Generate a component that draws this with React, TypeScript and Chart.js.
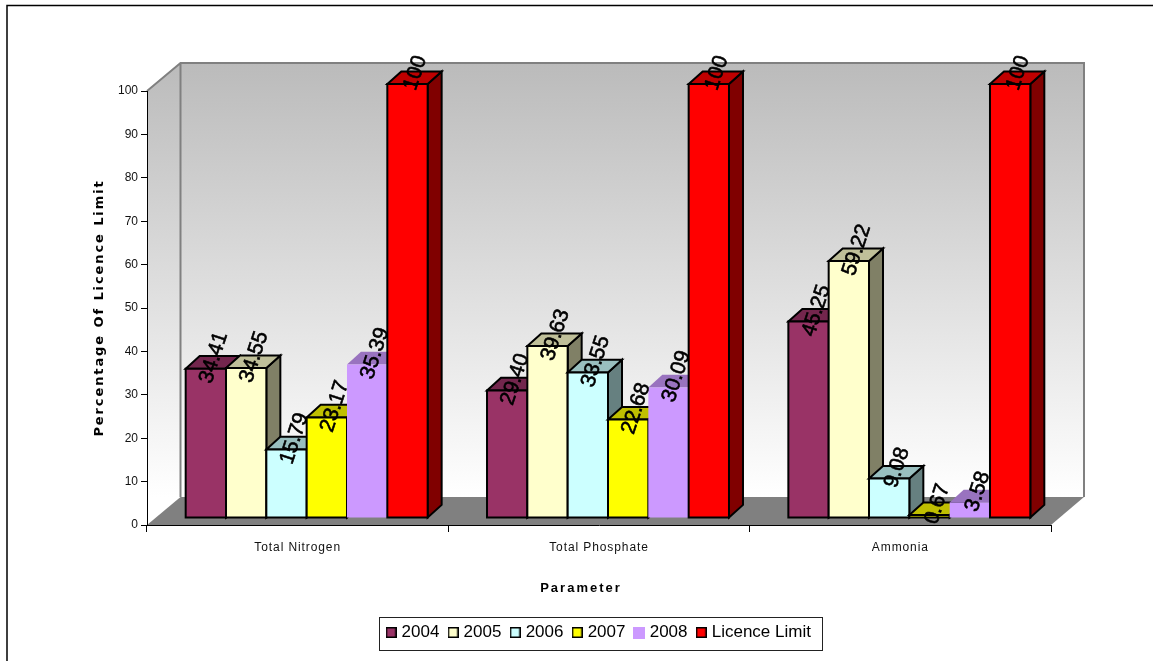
import React, { useEffect, useRef } from "react";
import { Chart, registerables } from "chart.js";

Chart.register(...registerables);

const categories = ["Total Nitrogen", "Total Phosphate", "Ammonia"];
const series2004 = [34.41, 29.4, 45.25];
const series2005 = [34.55, 39.63, 59.22];
const series2006 = [15.79, 33.55, 9.08];
const series2007 = [23.17, 22.68, 0.67];
const series2008 = [35.39, 30.09, 3.58];
const licenceLimit = [100, 100, 100];
const labels2004 = ["34.41", "29.40", "45.25"];
const labels2005 = ["34.55", "39.63", "59.22"];
const labels2006 = ["15.79", "33.55", "9.08"];
const labels2007 = ["23.17", "22.68", "0.67"];
const labels2008 = ["35.39", "30.09", "3.58"];
const labelsLimit = ["100", "100", "100"];
const seriesNames = ["2004", "2005", "2006", "2007", "2008", "Licence Limit"];
const seriesColors = ["#993366", "#FFFFCC", "#CCFFFF", "#FFFF00", "#CC99FF", "#FF0000"];
const seriesBorders = [2, 2, 2, 2, 0, 2];

const seriesValues = [series2004, series2005, series2006, series2007, series2008, licenceLimit];
const seriesLabels = [labels2004, labels2005, labels2006, labels2007, labels2008, labelsLimit];

// Projection of the room and of the prisms standing in it.
const ROOM_DX = 33.5;
const ROOM_DY = 28;
const BAR_SHIFT_X = 9;
const BAR_SHIFT_Y = 7;
const BAR_DX = 14;
const BAR_DY = 12.6;
const FONT = "'Liberation Sans', Arial, sans-serif";

const shade = (hex: string, k: number) => {
  const n = parseInt(hex.slice(1), 16);
  const c = [(n >> 16) & 255, (n >> 8) & 255, n & 255].map((v) => Math.round(v * k));
  return `rgb(${c[0]},${c[1]},${c[2]})`;
};

const polygon = (ctx: CanvasRenderingContext2D, pts: number[][], fill: string | CanvasGradient) => {
  ctx.beginPath();
  pts.forEach(([x, y], i) => (i ? ctx.lineTo(x, y) : ctx.moveTo(x, y)));
  ctx.closePath();
  ctx.fillStyle = fill;
  ctx.fill();
};

// Legend swatch: bordered square, or a slightly larger plain one for a borderless series.
const swatch = (color: string, border: number) => {
  const c = document.createElement("canvas");
  const size = border > 0 ? 11 : 12;
  c.width = size;
  c.height = size;
  const g = c.getContext("2d") as CanvasRenderingContext2D;
  g.fillStyle = color;
  g.fillRect(0, 0, size, size);
  if (border > 0) {
    g.strokeStyle = "#000";
    g.lineWidth = 1.5;
    g.strokeRect(0.75, 0.75, size - 1.5, size - 1.5);
  }
  return c;
};

// Side wall, back wall and floor, placed from the chart area.
const roomPlugin = {
  id: "room",
  beforeDraw(chart: any) {
    const { ctx, chartArea: a } = chart;
    ctx.save();
    ctx.strokeStyle = "#000";
    ctx.lineWidth = 1.5;
    ctx.strokeRect(7, 5.5, 1300, 800);

    const backLeft = a.left + ROOM_DX;
    const backRight = a.right + ROOM_DX - 0.5;
    const backTop = a.top - ROOM_DY;
    const backBottom = a.bottom - ROOM_DY;

    const wall = ctx.createLinearGradient(0, backTop, 0, backBottom);
    wall.addColorStop(0, "#bbbbbb");
    wall.addColorStop(1, "#ffffff");
    ctx.fillStyle = wall;
    ctx.fillRect(backLeft, backTop, backRight - backLeft, backBottom - backTop);
    polygon(
      ctx,
      [
        [a.left, a.top],
        [backLeft, backTop],
        [backLeft, backBottom],
        [a.left, a.bottom],
      ],
      wall
    );
    polygon(
      ctx,
      [
        [a.left, a.bottom],
        [a.right, a.bottom],
        [backRight, backBottom],
        [backLeft, backBottom],
      ],
      "#808080"
    );

    ctx.strokeStyle = "#808080";
    ctx.lineWidth = 2;
    ctx.beginPath();
    ctx.moveTo(a.left, a.top);
    ctx.lineTo(backLeft, backTop);
    ctx.lineTo(backRight, backTop);
    ctx.lineTo(backRight, backBottom);
    ctx.moveTo(backLeft, backTop);
    ctx.lineTo(backLeft, backBottom);
    ctx.stroke();
    ctx.restore();
  },
};

// Replaces the flat bars with prisms, then writes the slanted value labels over them.
const prismPlugin = {
  id: "prisms",
  beforeDatasetsDraw(chart: any) {
    const { ctx } = chart;
    ctx.save();
    ctx.lineJoin = "miter";
    categories.forEach((_, c) => {
      seriesValues.forEach((__, s) => {
        const el = chart.getDatasetMeta(s).data[c];
        const color = seriesColors[s];
        const x0 = el.x - el.width / 2 + BAR_SHIFT_X;
        const x1 = el.x + el.width / 2 + BAR_SHIFT_X;
        const top = el.y - BAR_SHIFT_Y;
        const base = el.base - BAR_SHIFT_Y;
        const topFace = [
          [x0, top],
          [x1, top],
          [x1 + BAR_DX, top - BAR_DY],
          [x0 + BAR_DX, top - BAR_DY],
        ];
        const sideFace = [
          [x1, top],
          [x1 + BAR_DX, top - BAR_DY],
          [x1 + BAR_DX, base - BAR_DY],
          [x1, base],
        ];
        const frontFace = [
          [x0, top],
          [x1, top],
          [x1, base],
          [x0, base],
        ];
        const faces: [number[][], string][] = [
          [sideFace, shade(color, 0.5)],
          [topFace, shade(color, 0.75)],
          [frontFace, color],
        ];
        faces.forEach(([pts, fill]) => {
          polygon(ctx, pts, fill);
          if (seriesBorders[s] > 0) {
            ctx.strokeStyle = "#000";
            ctx.lineWidth = seriesBorders[s];
            ctx.stroke();
          }
        });
      });
    });
    categories.forEach((_, c) => {
      seriesValues.forEach((__, s) => {
        const el = chart.getDatasetMeta(s).data[c];
        ctx.save();
        ctx.translate(el.x + BAR_SHIFT_X + 8, el.y - BAR_SHIFT_Y - 11);
        ctx.rotate((-72 * Math.PI) / 180);
        ctx.font = `21px ${FONT}`;
        ctx.fillStyle = "#000";
        ctx.strokeStyle = "#000";
        ctx.lineWidth = 0.6;
        ctx.textAlign = "center";
        ctx.textBaseline = "middle";
        ctx.fillText(seriesLabels[s][c], 0, 0);
        ctx.strokeText(seriesLabels[s][c], 0, 0);
        ctx.restore();
      });
    });
    ctx.restore();
    return false;
  },
};

// Box round the legend entries.
const legendFramePlugin = {
  id: "legendFrame",
  afterDraw(chart: any) {
    const { ctx, legend } = chart;
    const boxes = legend.legendHitBoxes;
    const last = boxes[boxes.length - 1];
    const left = Math.round(boxes[0].left - 9);
    const right = Math.round(last.left + last.width + 12);
    ctx.save();
    ctx.strokeStyle = "#222";
    ctx.lineWidth = 1;
    ctx.strokeRect(left + 0.5, 617.5, right - left, 33);
    ctx.restore();
  },
};

// Wraps a scale's text drawing so it can carry tracking and a sideways nudge.
const spaced = (scale: any, method: string, spacing: string, nudgeX = 0) => {
  const original = scale[method];
  if (original.__spaced) return;
  const wrapped = function (this: any, ...args: any[]) {
    const ctx = this.ctx;
    ctx.save();
    ctx.translate(nudgeX, 0);
    ctx.letterSpacing = spacing;
    original.apply(this, args);
    ctx.restore();
  };
  (wrapped as any).__spaced = true;
  scale[method] = wrapped;
};

const trackingPlugin = {
  id: "tracking",
  beforeDraw(chart: any) {
    spaced(chart.scales.x, "drawLabels", "0.9px");
    spaced(chart.scales.x, "drawTitle", "2px", -18);
    spaced(chart.scales.y, "drawTitle", "1.9px");
    spaced(chart.legend, "draw", "0px", 1);
  },
};

export default function App() {
  const ref = useRef<HTMLCanvasElement | null>(null);
  useEffect(() => {
    const chart = new Chart(ref.current as HTMLCanvasElement, {
      type: "bar",
      data: {
        labels: categories,
        datasets: seriesNames.map((name, i) => ({
          label: name,
          data: seriesValues[i],
          backgroundColor: seriesColors[i],
          borderColor: "#000",
          borderWidth: seriesBorders[i],
          categoryPercentage: 0.803,
          barPercentage: 1,
        })),
      },
      plugins: [roomPlugin, prismPlugin, legendFramePlugin, trackingPlugin],
      options: {
        responsive: false,
        animation: false,
        layout: { padding: { left: 0, top: 91, right: 102, bottom: 10 } },
        plugins: {
          tooltip: { enabled: false },
          legend: {
            position: "bottom",
            fullSize: false,
            labels: {
              usePointStyle: true,
              pointStyleWidth: 4,
              boxHeight: 10,
              padding: 11.7,
              color: "#000",
              font: { family: FONT, size: 17 },
              generateLabels: () =>
                seriesNames.map((name, i) => ({
                  text: name,
                  fontColor: "#000",
                  fillStyle: seriesColors[i],
                  strokeStyle: "#000",
                  lineWidth: seriesBorders[i],
                  pointStyle: swatch(seriesColors[i], seriesBorders[i]),
                  datasetIndex: i,
                })),
            },
          },
        },
        scales: {
          x: {
            grid: { drawOnChartArea: false, drawTicks: true, tickLength: 7, color: "#000" },
            border: { color: "#000", width: 1 },
            ticks: { color: "#111", font: { family: FONT, size: 12 }, padding: 8, maxRotation: 0, autoSkip: false },
            title: {
              display: true,
              text: "Parameter",
              color: "#000",
              font: { family: FONT, size: 13, weight: "bold" },
              padding: { top: 0, bottom: 16 },
            },
            afterFit(scale: any) {
              scale.height = 87.3;
            },
          },
          y: {
            min: 0,
            max: 100,
            grid: { drawOnChartArea: false, drawTicks: true, tickLength: 6, color: "#000" },
            border: { color: "#000", width: 1 },
            ticks: { stepSize: 10, color: "#111", font: { family: FONT, size: 12 }, padding: 3 },
            title: {
              display: true,
              text: "Percentage Of Licence Limit",
              color: "#000",
              font: { family: "'DejaVu Sans', sans-serif", size: 13, weight: "bold" },
              padding: { top: 92, bottom: 0 },
            },
            afterFit(scale: any) {
              scale.width = 147;
            },
          },
        },
      },
    } as any);
    return () => chart.destroy();
  }, []);
  return (
    <div style={{ position: "fixed", left: 0, top: 0, width: 1153, height: 661, background: "#fff" }}>
      <canvas ref={ref} width={1153} height={661} style={{ display: "block" }} />
    </div>
  );
}
